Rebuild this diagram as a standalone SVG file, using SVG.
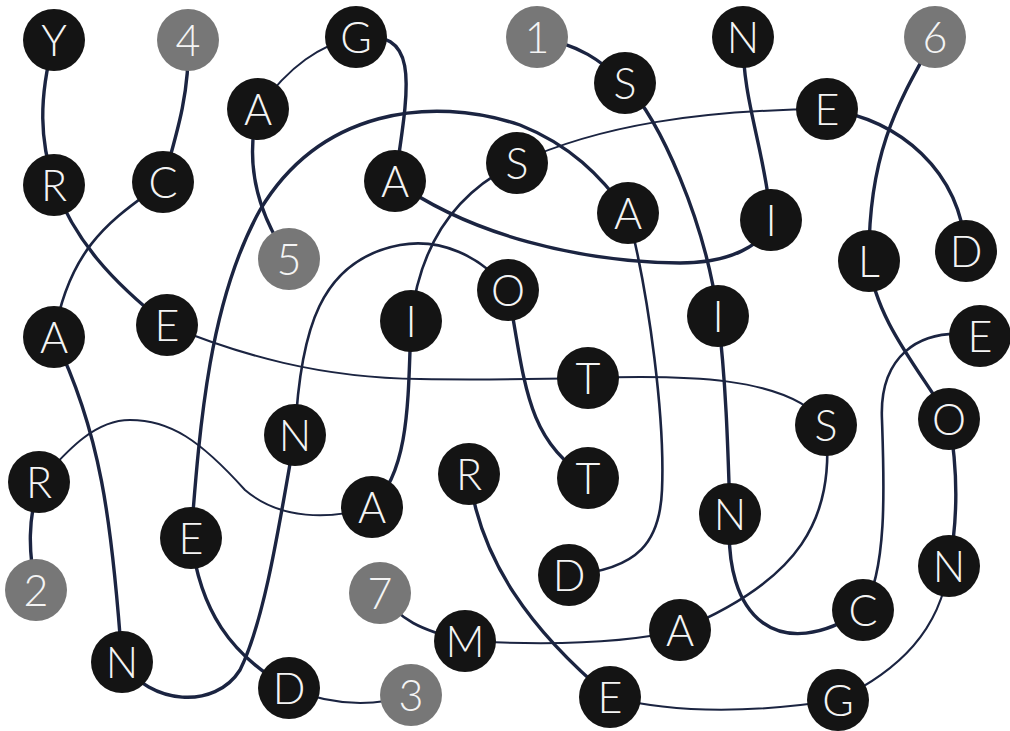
<svg xmlns="http://www.w3.org/2000/svg" width="1010" height="731" viewBox="0 0 1010 731">
<style>
.e{fill:none;stroke:#1b2441;stroke-linecap:round}
.k{stroke-width:3.4}
.t{stroke-width:2}
.m{stroke-width:2.6}
circle{fill:#141414}
.g circle{fill:#777777}
text{font-family:Lato,"Open Sans","Liberation Sans",sans-serif;font-weight:300;font-size:43px;fill:#f4f4f4;text-anchor:middle}
</style>
<rect width="1010" height="731" fill="#ffffff"/>
<g id="connectors">
<path class="e k" d="M54,40 C38,100 40,140 54,185"/>
<path class="e k" d="M188,40 C190,90 178,130 163,182"/>
<path class="e t" d="M356,37 C320,45 290,65 258,109"/>
<path class="e k" d="M258,109 C245,160 255,210 289,259"/>
<path class="e k" d="M356,37 C420,30 410,80 395,181"/>
<path class="e k" d="M395,181 C470,235 580,262 680,263 C730,263 765,245 771,220"/>
<path class="e k" d="M537,37 C580,45 600,60 625,83"/>
<path class="e k" d="M625,83 C660,120 705,220 718,316"/>
<path class="e k" d="M718,316 C726,380 728,450 730,514"/>
<path class="e k" d="M730,514 C722,620 780,665 863,610"/>
<path class="e m" d="M863,610 C888,570 884,480 882,420 C879,360 915,325 980,336"/>
<path class="e k" d="M743,37 C742,100 765,150 771,220"/>
<path class="e k" d="M935,37 C900,100 868,150 869,261"/>
<path class="e k" d="M869,261 C875,320 920,370 949,419"/>
<path class="e k" d="M949,419 C958,470 958,520 949,566"/>
<path class="e t" d="M949,566 C940,630 900,670 838,700"/>
<path class="e t" d="M610,697 C680,715 760,712 838,700"/>
<path class="e k" d="M469,474 C480,560 530,630 610,697"/>
<path class="e k" d="M827,109 C900,120 960,170 966,251"/>
<path class="e t" d="M827,109 C700,110 600,125 517,163"/>
<path class="e m" d="M517,163 C460,190 420,240 411,321"/>
<path class="e k" d="M411,321 C408,400 410,470 372,507"/>
<path class="e t" d="M372,507 C330,520 280,520 245,490 C200,440 170,420 130,420 C90,420 60,460 39,482"/>
<path class="e k" d="M39,482 C28,520 28,550 36,590"/>
<path class="e m" d="M163,182 C120,215 70,240 54,337"/>
<path class="e k" d="M54,337 C100,430 112,520 122,662"/>
<path class="e k" d="M122,662 C150,705 215,710 240,670 C265,620 280,520 295,435"/>
<path class="e m" d="M295,435 C300,330 320,260 400,245 C440,238 480,255 508,290"/>
<path class="e k" d="M508,290 C525,380 525,440 588,478"/>
<path class="e k" d="M54,185 C75,240 110,280 167,325"/>
<path class="e t" d="M167,325 C240,355 320,378 420,379 C480,380 540,379 588,378"/>
<path class="e t" d="M588,378 C680,375 790,375 826,425"/>
<path class="e m" d="M826,425 C835,520 800,580 680,630"/>
<path class="e t" d="M465,641 C540,645 620,645 680,630"/>
<path class="e m" d="M380,593 C400,620 420,630 465,641"/>
<path class="e k" d="M191,538 C200,610 230,655 289,688"/>
<path class="e t" d="M289,688 C330,705 370,708 411,695"/>
<path class="e k" d="M191,538 C200,420 210,300 260,210 C320,110 430,95 520,125 C570,145 600,175 628,213"/>
<path class="e m" d="M628,213 C650,300 665,420 662,490 C660,540 640,570 569,575"/>
</g>
<g id="n-Y"><circle cx="54" cy="40" r="31"/><text x="54" y="56">Y</text></g>
<g id="n-4" class="g"><circle cx="188" cy="40" r="31"/><text x="188" y="56">4</text></g>
<g id="n-G1"><circle cx="356" cy="37" r="31"/><text x="356" y="53">G</text></g>
<g id="n-1" class="g"><circle cx="537" cy="37" r="31"/><text x="537" y="53">1</text></g>
<g id="n-N1"><circle cx="743" cy="37" r="31"/><text x="743" y="53">N</text></g>
<g id="n-6" class="g"><circle cx="935" cy="37" r="31"/><text x="935" y="53">6</text></g>
<g id="n-A1"><circle cx="258" cy="109" r="31"/><text x="258" y="125">A</text></g>
<g id="n-S1"><circle cx="625" cy="83" r="31"/><text x="625" y="99">S</text></g>
<g id="n-E1"><circle cx="827" cy="109" r="31"/><text x="827" y="125">E</text></g>
<g id="n-R1"><circle cx="54" cy="185" r="31"/><text x="54" y="201">R</text></g>
<g id="n-C1"><circle cx="163" cy="182" r="31"/><text x="163" y="198">C</text></g>
<g id="n-A2"><circle cx="395" cy="181" r="31"/><text x="395" y="197">A</text></g>
<g id="n-S2"><circle cx="517" cy="163" r="31"/><text x="517" y="179">S</text></g>
<g id="n-A3"><circle cx="628" cy="213" r="31"/><text x="628" y="229">A</text></g>
<g id="n-I1"><circle cx="771" cy="220" r="31"/><text x="771" y="236">I</text></g>
<g id="n-D1"><circle cx="966" cy="251" r="31"/><text x="966" y="267">D</text></g>
<g id="n-5" class="g"><circle cx="289" cy="259" r="31"/><text x="289" y="275">5</text></g>
<g id="n-L"><circle cx="869" cy="261" r="31"/><text x="869" y="277">L</text></g>
<g id="n-O1"><circle cx="508" cy="290" r="31"/><text x="508" y="306">O</text></g>
<g id="n-A4"><circle cx="54" cy="337" r="31"/><text x="54" y="353">A</text></g>
<g id="n-E2"><circle cx="167" cy="325" r="31"/><text x="167" y="341">E</text></g>
<g id="n-I2"><circle cx="411" cy="321" r="31"/><text x="411" y="337">I</text></g>
<g id="n-I3"><circle cx="718" cy="316" r="31"/><text x="718" y="332">I</text></g>
<g id="n-E3"><circle cx="980" cy="336" r="31"/><text x="980" y="352">E</text></g>
<g id="n-T1"><circle cx="588" cy="378" r="31"/><text x="588" y="394">T</text></g>
<g id="n-N2"><circle cx="295" cy="435" r="31"/><text x="295" y="451">N</text></g>
<g id="n-S3"><circle cx="826" cy="425" r="31"/><text x="826" y="441">S</text></g>
<g id="n-O2"><circle cx="949" cy="419" r="31"/><text x="949" y="435">O</text></g>
<g id="n-R2"><circle cx="39" cy="482" r="31"/><text x="39" y="498">R</text></g>
<g id="n-R3"><circle cx="469" cy="474" r="31"/><text x="469" y="490">R</text></g>
<g id="n-T2"><circle cx="588" cy="478" r="31"/><text x="588" y="494">T</text></g>
<g id="n-A5"><circle cx="372" cy="507" r="31"/><text x="372" y="523">A</text></g>
<g id="n-E4"><circle cx="191" cy="538" r="31"/><text x="191" y="554">E</text></g>
<g id="n-N3"><circle cx="730" cy="514" r="31"/><text x="730" y="530">N</text></g>
<g id="n-D2"><circle cx="569" cy="575" r="31"/><text x="569" y="591">D</text></g>
<g id="n-N4"><circle cx="949" cy="566" r="31"/><text x="949" y="582">N</text></g>
<g id="n-2" class="g"><circle cx="36" cy="590" r="31"/><text x="36" y="606">2</text></g>
<g id="n-7" class="g"><circle cx="380" cy="593" r="31"/><text x="380" y="609">7</text></g>
<g id="n-M"><circle cx="465" cy="641" r="31"/><text x="465" y="657">M</text></g>
<g id="n-A6"><circle cx="680" cy="630" r="31"/><text x="680" y="646">A</text></g>
<g id="n-C2"><circle cx="863" cy="610" r="31"/><text x="863" y="626">C</text></g>
<g id="n-N5"><circle cx="122" cy="662" r="31"/><text x="122" y="678">N</text></g>
<g id="n-D3"><circle cx="289" cy="688" r="31"/><text x="289" y="704">D</text></g>
<g id="n-3" class="g"><circle cx="411" cy="695" r="31"/><text x="411" y="711">3</text></g>
<g id="n-E5"><circle cx="610" cy="697" r="31"/><text x="610" y="713">E</text></g>
<g id="n-G2"><circle cx="838" cy="700" r="31"/><text x="838" y="716">G</text></g>
</svg>
